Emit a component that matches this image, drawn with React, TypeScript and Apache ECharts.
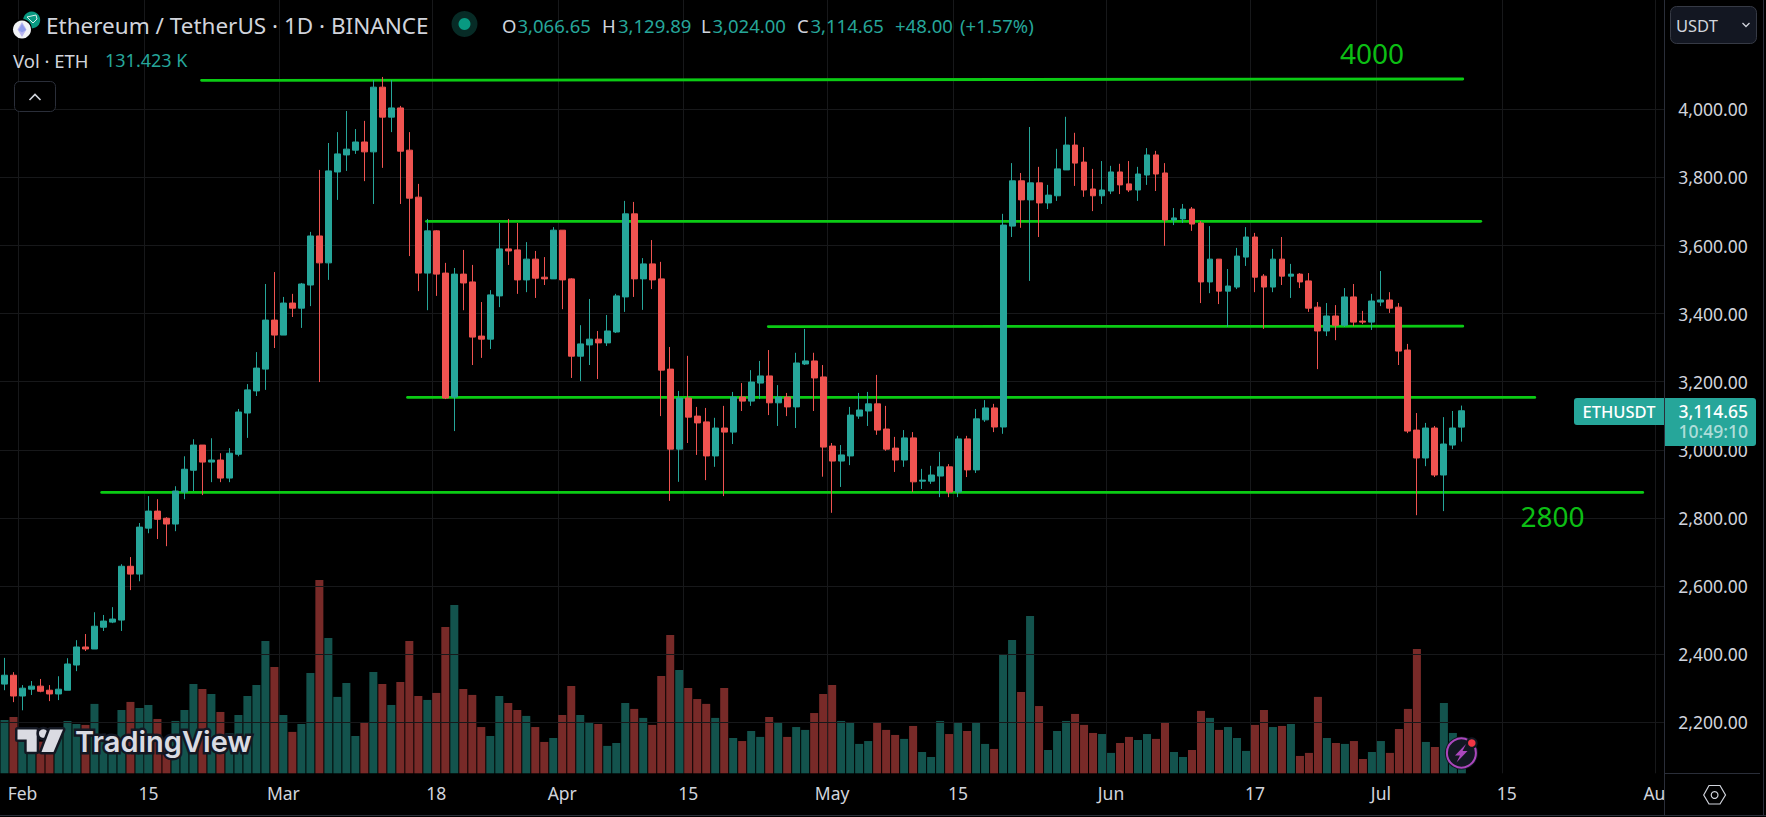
import React, { useEffect, useRef } from "react";
import * as echarts from "echarts";

// Daily ETH/USDT, 2024-01-30 .. 2024-07-10
const opens = [
  2312,2338,2277,2297,2306,2294,2283,2294,2368,2421,
  2415,2479,2494,2500,2658,2635,2770,2820,2799,2782,
  2876,2940,3014,2964,2970,2917,2987,3108,3173,3237,
  3381,3337,3431,3416,3484,3628,3549,3816,3866,3880,
  3904,3875,4065,3977,4004,3880,3742,3519,3643,3519,
  3155,3516,3493,3334,3325,3452,3590,3587,3499,3560,
  3507,3502,3645,3502,3275,3308,3325,3314,3346,3449,
  3693,3502,3546,3502,3237,3002,3152,3099,3082,2982,
  3064,3052,3155,3143,3196,3217,3138,3155,3126,3252,
  3261,3214,3011,2967,2982,3099,3114,3135,3061,3005,
  2970,3035,2908,2908,2923,2950,2876,3032,2941,3088,
  3123,3067,3657,3790,3734,3784,3725,3746,3822,3895,
  3845,3766,3746,3760,3816,3781,3763,3807,3866,3813,
  3675,3678,3707,3666,3493,3560,3466,3478,3566,3625,
  3510,3478,3560,3510,3516,3496,3419,3349,3393,3366,
  3449,3378,3375,3434,3440,3419,3293,3058,2976,3064,
  2926,3014,3066.65,
];
const closes = [
  2338,2277,2300,2306,2291,2283,2297,2371,2421,2415,
  2482,2497,2503,2658,2635,2773,2820,2796,2782,2879,
  2943,3014,2964,2970,2917,2990,3111,3176,3240,3381,
  3337,3431,3416,3487,3628,3549,3819,3869,3883,3904,
  3875,4065,3977,4004,3877,3739,3519,3643,3516,3152,
  3516,3490,3331,3325,3455,3590,3584,3499,3560,3504,
  3502,3645,3499,3275,3311,3325,3314,3349,3452,3693,
  3502,3546,3499,3234,3002,3152,3096,3079,2982,3064,
  3052,3155,3143,3199,3217,3138,3155,3126,3255,3261,
  3211,3008,2967,2985,3102,3117,3135,3058,3002,2970,
  3035,2906,2911,2926,2950,2876,3032,2941,3091,3123,
  3067,3660,3790,3734,3784,3725,3748,3825,3895,3842,
  3763,3746,3763,3816,3778,3763,3810,3866,3810,3675,
  3681,3707,3663,3493,3560,3466,3481,3569,3625,3507,
  3478,3560,3510,3516,3493,3416,3349,3393,3366,3449,
  3375,3375,3437,3440,3416,3290,3055,2976,3064,2926,
  3017,3064,3114.65,
];
const lows = [
  2294,2259,2235,2280,2288,2262,2265,2294,2350,2409,
  2415,2468,2491,2468,2588,2614,2755,2738,2717,2761,
  2855,2879,2867,2905,2905,2905,2981,3035,3158,3176,
  3299,3337,3390,3358,3422,3199,3499,3734,3819,3869,
  3789,3722,3828,3933,3722,3569,3466,3410,3452,3149,
  3055,3410,3249,3270,3296,3419,3543,3458,3463,3446,
  3484,3502,3413,3211,3202,3249,3208,3305,3343,3405,
  3449,3411,3472,3099,2850,2906,3020,2985,2911,2950,
  2864,3017,3114,3129,3149,3102,3070,3099,3064,3249,
  3114,2921,2815,2891,2955,3091,3070,3044,2997,2935,
  2950,2876,2885,2900,2861,2861,2861,2920,2932,3082,
  3052,3047,3625,3652,3496,3625,3707,3731,3822,3775,
  3743,3701,3722,3751,3751,3757,3731,3778,3760,3599,
  3660,3666,3643,3431,3460,3428,3361,3472,3540,3463,
  3355,3463,3484,3446,3475,3405,3237,3334,3322,3361,
  3363,3369,3352,3422,3402,3249,3049,2808,2952,2920,
  2820,3002,3024,
];
const highs = [
  2389,2347,2309,2321,2327,2309,2335,2388,2441,2459,
  2523,2515,2538,2664,2685,2785,2864,2855,2802,2893,
  2981,3031,3014,3034,2990,3005,3120,3193,3287,3487,
  3522,3449,3458,3490,3640,3822,3901,3933,3995,3942,
  3966,4086,4095,4086,4010,3933,3781,3678,3645,3549,
  3534,3587,3543,3434,3469,3666,3678,3666,3610,3584,
  3566,3654,3645,3504,3366,3443,3349,3396,3458,3731,
  3728,3563,3616,3552,3302,3173,3276,3126,3123,3094,
  3129,3170,3196,3234,3261,3293,3190,3167,3285,3355,
  3285,3249,3020,3014,3126,3167,3170,3220,3129,3038,
  3058,3052,2944,2953,2994,2958,3041,3041,3120,3146,
  3135,3693,3842,3813,3948,3831,3778,3884,3978,3931,
  3889,3825,3848,3834,3840,3848,3831,3886,3878,3842,
  3710,3722,3713,3672,3657,3560,3531,3593,3654,3637,
  3516,3590,3625,3546,3519,3519,3434,3431,3425,3475,
  3487,3408,3458,3525,3463,3431,3311,3108,3079,3070,
  3096,3114,3129.89,
];
// Volume in thousands of ETH
const volumes = [
  350,370,241,219,208,208,263,344,324,318,
  456,241,241,416,469,429,449,357,219,344,
  416,587,554,521,403,263,383,508,580,869,
  699,383,272,324,659,1270,889,502,593,245,
  337,666,587,449,600,869,508,482,528,961,
  1106,554,515,304,245,508,462,416,377,304,
  206,232,383,574,383,337,324,180,199,462,
  423,364,318,639,909,679,561,488,456,364,
  561,232,212,278,239,370,331,239,304,285,
  396,521,580,344,331,193,212,331,285,252,
  226,311,140,107,344,258,331,278,337,193,
  160,777,876,534,1034,442,153,278,344,390,
  318,265,258,134,199,239,219,258,226,337,
  140,107,153,410,364,285,304,232,147,318,
  416,304,311,324,114,134,502,232,199,193,
  212,94,140,212,134,291,423,817,206,173,
  462,265,131.423,
];
// Drawn support / resistance segments: [day offset from Feb 1, price] pairs
const levelLines = [
  [[19.9, 4085], [160.1, 4089]],
  [[44.9, 3671], [162.1, 3671]],
  [[82.9, 3362], [160.1, 3363]],
  [[42.8, 3154], [168.1, 3154]],
  [[8.8, 2875], [180.1, 2875]],
];
const priceTicks = [2200, 2400, 2600, 2800, 3000, 3200, 3400, 3600, 3800, 4000];
const dateTickLabels: Record<string, string> = {
  "2024-02-01": "Feb", "2024-02-15": "15", "2024-03-01": "Mar", "2024-03-18": "18",
  "2024-04-01": "Apr", "2024-04-15": "15", "2024-05-01": "May", "2024-05-15": "15",
  "2024-06-01": "Jun", "2024-06-17": "17", "2024-07-01": "Jul", "2024-07-15": "15",
  "2024-08-01": "Aug",
};
const BAND_COUNT = 185;
const categories: string[] = Array.from({ length: BAND_COUNT }, (_, i) =>
  new Date(Date.UTC(2024, 0, 30 + i)).toISOString().slice(0, 10)
);

const FONT = '"Noto Sans"';
const TEXT = "#D1D4DC";
const UP = "#26A69A";
const DOWN = "#EF5350";
const LEVEL = "#0BCB14";
const GRIDC = "#17181A";
const BORDER = "#2A2E39";

function txt(text: string, x: number, y: number, size: number, fill: string, extra: any = {}) {
  const { align, weight, ...rest } = extra;
  return {
    type: "text", x, y, z: 10, silent: true,
    style: {
      text, fill, font: `${weight || 400} ${size}px ${FONT}`,
      textAlign: align || "left", textVerticalAlign: "middle", ...rest,
    },
  };
}
function poly(points: number[][], style: any, z = 10) {
  return { type: "polygon", z, silent: true, shape: { points }, style };
}

function buildGraphics() {
  const g: any[] = [];
  // right price-scale frame
  g.push({ type: "rect", z: 1, silent: true, shape: { x: 1664.5, y: 774, width: 102, height: 41 }, style: { fill: "#000" } });
  g.push({ type: "rect", z: 10, silent: true, shape: { x: 1664, y: 0, width: 1, height: 815 }, style: { fill: BORDER } });
  g.push({ type: "rect", z: 10, silent: true, shape: { x: 1664, y: 773, width: 96, height: 1 }, style: { fill: BORDER } });
  g.push({ type: "rect", z: 10, silent: true, shape: { x: 0, y: 815, width: 1766, height: 1 }, style: { fill: BORDER } });
  g.push({ type: "rect", z: 10, silent: true, shape: { x: 1763, y: 0, width: 1, height: 815 }, style: { fill: BORDER } });

  // header: icons
  g.push({ type: "circle", z: 10, silent: true, shape: { cx: 31.7, cy: 20, r: 8.5 }, style: { fill: "#089981" } });
  g.push(poly([[27, 17], [36, 15], [37, 19], [33, 23]], { fill: "none", stroke: "#D8F0EC", lineWidth: 1 }));
  g.push({ type: "circle", z: 10, silent: true, shape: { cx: 22, cy: 29, r: 10 }, style: { fill: "#000" } });
  g.push({ type: "circle", z: 10, silent: true, shape: { cx: 22, cy: 29.5, r: 9 }, style: { fill: "#F2F3F6" } });
  g.push(poly([[22, 22], [26.5, 29.5], [22, 37], [17.5, 29.5]], { fill: "#B9B6F0" }));
  g.push(poly([[22, 24], [26, 30], [22, 32.5], [18.5, 30]], { fill: "#8E9BEA" }));

  // header: title and OHLC
  g.push(txt("Ethereum / TetherUS · 1D · BINANCE", 46, 25, 22.5, TEXT));
  g.push({ type: "circle", z: 10, silent: true, shape: { cx: 464.5, cy: 24, r: 13 }, style: { fill: "#072B26" } });
  g.push({ type: "circle", z: 10, silent: true, shape: { cx: 464.5, cy: 24, r: 6 }, style: { fill: "#089981" } });
  const ohlc: [string, number, string, number][] = [
    ["O", 502, "3,066.65", 517.5],
    ["H", 602, "3,129.89", 618],
    ["L", 701, "3,024.00", 712.5],
    ["C", 797, "3,114.65", 810.5],
  ];
  for (const [k, kx, v, vx] of ohlc) {
    g.push(txt(k, kx, 25, 18.5, TEXT));
    g.push(txt(v, vx, 25, 18.5, UP));
  }
  g.push(txt("+48.00", 895, 25, 18.5, UP));
  g.push(txt("(+1.57%)", 960, 25, 18.5, UP));

  // volume legend
  g.push(txt("Vol · ETH", 13, 60, 18.5, TEXT));
  g.push(txt("131.423 K", 105, 60, 18, UP));
  g.push({ type: "rect", z: 10, silent: true, shape: { x: 14.5, y: 81.5, width: 41, height: 30, r: 5 }, style: { fill: "#000", stroke: BORDER, lineWidth: 1 } });
  g.push({ type: "polyline", z: 10, silent: true, shape: { points: [[29.5, 100], [35, 94.5], [40.5, 100]] }, style: { fill: "none", stroke: TEXT, lineWidth: 1.6 } });

  // currency button
  g.push({ type: "rect", z: 10, silent: true, shape: { x: 1670.5, y: 6.5, width: 86, height: 37, r: 6 }, style: { fill: "#131722", stroke: "#363A45", lineWidth: 1 } });
  g.push(txt("USDT", 1676, 25, 16.5, TEXT));
  g.push({ type: "polyline", z: 10, silent: true, shape: { points: [[1742.5, 23], [1746, 26.5], [1749.5, 23]] }, style: { fill: "none", stroke: TEXT, lineWidth: 1.3 } });

  // level annotations
  g.push(txt("4000", 1340, 52.5, 28, "#0CBE14"));
  g.push(txt("2800", 1520.5, 515.6, 28, "#0CBE14"));

  // last price tag
  g.push({ type: "rect", z: 10, silent: true, shape: { x: 1574, y: 398, width: 90, height: 27, r: [3, 0, 0, 3] }, style: { fill: UP } });
  g.push({ type: "rect", z: 10, silent: true, shape: { x: 1665, y: 398, width: 91, height: 48, r: [0, 3, 3, 0] }, style: { fill: UP } });
  g.push(txt("ETHUSDT", 1619, 411, 16.5, "#fff", { align: "center", weight: 500 }));
  g.push(txt("3,114.65", 1748, 411, 17.5, "#fff", { align: "right", weight: 500 }));
  g.push(txt("10:49:10", 1748, 431, 17.5, "rgba(255,255,255,0.65)", { align: "right", weight: 500 }));

  // settings hexagon
  g.push(poly([[1703.7, 795], [1709, 785.5], [1720, 785.5], [1725.5, 795], [1720, 804], [1709, 804]], { fill: "none", stroke: TEXT, lineWidth: 1.2 }));
  g.push({ type: "circle", z: 10, silent: true, shape: { cx: 1714.6, cy: 795, r: 3.4 }, style: { fill: "none", stroke: TEXT, lineWidth: 1.2 } });

  // lightning badge
  g.push({ type: "circle", z: 10, silent: true, shape: { cx: 1461.4, cy: 753, r: 16.5 }, style: { fill: "#131722" } });
  g.push({ type: "circle", z: 10, silent: true, shape: { cx: 1461.4, cy: 753, r: 14.5 }, style: { fill: "#131722", stroke: "#AB47BC", lineWidth: 2 } });
  g.push(poly([[1466, 744], [1455, 755.5], [1460, 755.5], [1456.5, 762.5], [1467.5, 751], [1462.5, 751]], { fill: "#AB47BC" }));
  g.push({ type: "circle", z: 10, silent: true, shape: { cx: 1471.8, cy: 743, r: 5.8 }, style: { fill: "#131722" } });
  g.push({ type: "circle", z: 10, silent: true, shape: { cx: 1471.8, cy: 743, r: 3.8 }, style: { fill: "#F23645" } });

  // watermark
  const logoFill = "#DADBE2";
  const logoStyle = { fill: logoFill, stroke: "#131722", lineWidth: 5, strokeFirst: true, lineJoin: "round" };
  g.push(poly([[17.5, 729.5], [36.7, 729.5], [36.7, 751.7], [26.7, 751.7], [26.7, 739.5], [17.5, 739.5]], logoStyle));
  g.push({ type: "circle", z: 10, silent: true, shape: { cx: 43.3, cy: 733.5, r: 4.3 }, style: logoStyle });
  g.push(poly([[50, 729.5], [63, 729.5], [53.5, 752], [41.5, 752]], logoStyle));
  g.push({
    type: "text", x: 75, y: 741.5, z: 10, silent: true,
    style: {
      text: "TradingView", fill: logoFill, font: `600 29px Inter`,
      textAlign: "left", textVerticalAlign: "middle",
      stroke: "#131722", lineWidth: 5, strokeFirst: true, lineJoin: "round",
    },
  });
  return g;
}

export default function App() {
  const ref = useRef<HTMLDivElement>(null);
  useEffect(() => {
    document.body.style.margin = "0";
    document.body.style.background = "#000";
    const chart = echarts.init(ref.current!, undefined, { renderer: "svg" });
    const candles = opens.map((o, i) => [o, closes[i], lows[i], highs[i]]);
    const volData = volumes.map((v, i) => ({
      value: v,
      itemStyle: { color: closes[i] >= opens[i] ? "rgba(38,166,154,0.5)" : "rgba(239,83,80,0.5)" },
    }));
    chart.setOption({
      animation: false,
      backgroundColor: "#000",
      grid: { left: -1.3, top: 0, width: 1665.6, height: 773.3, containLabel: false },
      xAxis: [
        {
          type: "category",
          data: categories,
          boundaryGap: true,
          z: 0,
          axisLine: { show: false },
          axisTick: { show: false, alignWithLabel: true, interval: (_: number, v: string) => v in dateTickLabels },
          axisLabel: {
            interval: (_: number, v: string) => v in dateTickLabels,
            formatter: (v: string) => dateTickLabels[v] || "",
            color: TEXT, fontFamily: FONT, fontSize: 17.5, margin: 11, hideOverlap: false,
          },
          splitLine: {
            show: true,
            interval: (_: number, v: string) => v in dateTickLabels,
            lineStyle: { color: GRIDC, width: 1 },
          },
        },
        { type: "value", min: -2.5, max: 182.5, show: false, splitLine: { show: false } },
      ],
      yAxis: [
        {
          type: "value",
          position: "right",
          min: 2050,
          max: 4321,
          z: 2,
          axisLine: { show: false },
          axisTick: { show: false, customValues: priceTicks },
          axisLabel: {
            customValues: priceTicks,
            formatter: (v: number) => v.toLocaleString("en-US", { minimumFractionDigits: 2, maximumFractionDigits: 2 }),
            color: TEXT, fontFamily: FONT, fontSize: 17.5, margin: 14,
          },
          splitLine: { show: true, lineStyle: { color: GRIDC, width: 1 } },
        },
        { type: "value", min: 0, max: 5081, show: false, splitLine: { show: false } },
      ],
      series: [
        {
          type: "bar", name: "Volume", data: volData, xAxisIndex: 0, yAxisIndex: 1,
          barWidth: 8, z: 1, silent: true,
        },
        ...levelLines.map((pts, i) => ({
          type: "line", name: `Level ${i + 1}`, data: pts, xAxisIndex: 1, yAxisIndex: 0,
          showSymbol: false, symbol: "none", z: 3, silent: true,
          lineStyle: { color: LEVEL, width: 2.8, cap: "round" },
        })),
        {
          type: "candlestick", name: "ETHUSDT", data: candles, xAxisIndex: 0, yAxisIndex: 0,
          barWidth: 6.4, z: 4, silent: true,
          itemStyle: { color: UP, color0: DOWN, borderColor: UP, borderColor0: DOWN, borderWidth: 1 },
        },
      ],
      graphic: buildGraphics(),
    });
    return () => chart.dispose();
  }, []);
  return <div ref={ref} style={{ width: 1766, height: 817 }} />;
}
